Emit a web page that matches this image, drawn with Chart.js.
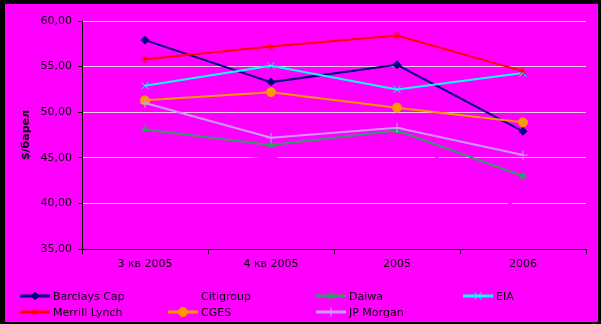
<!DOCTYPE html>
<html lang="bg">
<head>
<meta charset="UTF-8">
<title>Прогнози за цената на петрола</title>
<script src="https://cdn.jsdelivr.net/npm/chart.js"></script>
<style>
    html, body {
        margin: 0;
        padding: 0;
        background: #000;
    }
    body {
        width: 601px;
        height: 324px;
        position: relative;
        overflow: hidden;
        font-family: "DejaVu Sans", Arial, sans-serif;
    }
    .chart-box {
        position: absolute;
        left: 5px;
        top: 4px;
        width: 593px;
        height: 318px;
        background: #ff00ff;
    }
    .legend-item {
        position: absolute;
        display: flex;
        align-items: center;
        height: 12px;
        font-size: 11px;
        color: #000;
        white-space: nowrap;
    }
    .legend-item canvas {
        margin-right: 3px;
    }
</style>
</head>
<body>
<div class="chart-box">
    <canvas id="priceChart" width="593" height="318"></canvas>
    <div id="legend"></div>
</div>

<script>
    // Periods on the x axis
    const periods = ['3 кв 2005', '4 кв 2005', '2005', '2006'];

    // Forecasts, $/barrel
    const barclaysCap  = [57.9, 53.3, 55.2, 47.9];
    const citigroup    = [46.0, 45.0, 47.8, 39.1];
    const daiwa        = [48.1, 46.4, 48.0, 43.0];
    const eia          = [52.9, 55.1, 52.5, 54.3];
    const merrillLynch = [55.8, 57.2, 58.4, 54.5];
    const cges         = [51.3, 52.2, 50.5, 48.9];
    const jpMorgan     = [51.0, 47.2, 48.3, 45.3];

    const yMin = 35, yMax = 60, yStep = 5;

    const FONT = 'DejaVu Sans';

    // name, values, colour, marker
    const series = [
        { name: 'Barclays Cap',  data: barclaysCap,  color: '#000080', style: 'rectRot',  r: 4 },
        { name: 'Citigroup',     data: citigroup,    color: '#ff00ff', style: 'rect',     r: 7 },
        { name: 'Daiwa',         data: daiwa,        color: '#339966', style: 'triangle', r: 4 },
        { name: 'EIA',           data: eia,          color: '#00ffff', style: 'crossRot', r: 5 },
        { name: 'Merrill Lynch', data: merrillLynch, color: '#ff0000', style: 'star',     r: 4 },
        { name: 'CGES',          data: cges,         color: '#ff9900', style: 'circle',   r: 4.5 },
        { name: 'JP Morgan',     data: jpMorgan,     color: '#cc99ff', style: 'cross',    r: 5 }
    ];

    // later series sit on top of earlier ones
    const datasets = series.map((s, i) => ({
        label: s.name,
        data: s.data,
        borderColor: s.color,
        backgroundColor: s.color,
        borderWidth: 2,
        pointStyle: s.style,
        pointRadius: s.r,
        pointBorderWidth: 1,
        pointBackgroundColor: s.color,
        pointBorderColor: s.color,
        tension: 0,
        order: series.length - i
    }));

    const chart = new Chart(document.getElementById('priceChart'), {
        type: 'line',
        data: { labels: periods, datasets: datasets },
        options: {
            responsive: false,
            animation: false,
            events: [],
            layout: { padding: { top: 17, right: 12, left: 0, bottom: 0 } },
            plugins: {
                legend: { display: false },
                tooltip: { enabled: false }
            },
            scales: {
                x: {
                    offset: true,
                    grid: {
                        display: true,
                        drawOnChartArea: false,
                        offset: true,
                        tickLength: 5,
                        tickColor: '#000'
                    },
                    border: { color: '#000', width: 1 },
                    ticks: {
                        color: '#000',
                        font: { family: FONT, size: 11 },
                        padding: 4,
                        maxRotation: 0,
                        autoSkip: false
                    },
                    afterFit(scale) { scale.height = 73; }
                },
                y: {
                    min: yMin,
                    max: yMax,
                    ticks: {
                        stepSize: yStep,
                        color: '#000',
                        font: { family: FONT, size: 11 },
                        padding: 6,
                        callback: v => v.toFixed(2).replace('.', ',')
                    },
                    grid: {
                        color: '#f0c8f0',
                        tickColor: '#000',
                        tickLength: 4
                    },
                    border: { color: '#000', width: 1 },
                    title: {
                        display: true,
                        text: '$/барел',
                        color: '#000',
                        font: { family: FONT, size: 11, weight: 'bold' },
                        padding: { top: 15, bottom: 0 }
                    },
                    afterFit(scale) { scale.width = 77; }
                }
            }
        }
    });

    // Legend: two rows, four columns, line + marker sample then the name
    const legendBox = document.getElementById('legend');
    const colX = [15, 163, 311, 458];
    const rowY = [286, 302];

    series.forEach((s, i) => {
        const item = document.createElement('div');
        item.className = 'legend-item';
        item.style.left = colX[i % 4] + 'px';
        item.style.top = rowY[Math.floor(i / 4)] + 'px';

        const sample = document.createElement('canvas');
        sample.width = 30;
        sample.height = 12;
        const c = sample.getContext('2d');
        c.strokeStyle = s.color;
        c.fillStyle = s.color;
        c.lineWidth = 3;
        c.beginPath();
        c.moveTo(0, 6);
        c.lineTo(30, 6);
        c.stroke();
        c.lineWidth = 1;
        Chart.helpers.drawPoint(c, { pointStyle: s.style, radius: s.r, borderWidth: 1, rotation: 0 }, 15, 6);

        const text = document.createElement('span');
        text.textContent = s.name;

        item.appendChild(sample);
        item.appendChild(text);
        legendBox.appendChild(item);
    });
</script>
</body>
</html>
